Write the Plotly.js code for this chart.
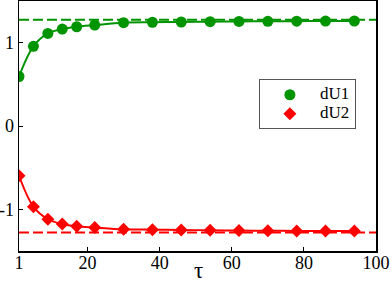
<!DOCTYPE html>
<html>
<head>
<meta charset="utf-8">
<script src="https://cdn.plot.ly/plotly-3.0.1.min.js"></script>
<style>html,body{margin:0;padding:0;background:#fff;}#chart{width:392px;height:284px;}</style>
</head>
<body>
<div id="chart"></div>
<script>
var tau = [1, 5, 9, 13, 17, 22, 30, 38, 46, 54, 62, 70, 78, 86, 94];
var dU1 = [0.594, 0.956, 1.111, 1.163, 1.191, 1.211, 1.240, 1.245, 1.248, 1.252, 1.255, 1.256, 1.258, 1.259, 1.260];
var dU2 = [-0.597, -0.968, -1.119, -1.175, -1.202, -1.218, -1.240, -1.244, -1.247, -1.252, -1.255, -1.257, -1.259, -1.260, -1.261];
var limitU1 = 1.275;
var limitU2 = -1.278;
var xRange = [1, 100];
var yRange = [-1.5, 1.5];
var xTicks = [1, 20, 40, 60, 80, 100];
var yTicks = [-1, 0, 1];
var xLabel = 'τ';
var seriesNames = ['dU1', 'dU2'];

var green = '#009400';
var red = '#ff0000';
var font = 'Liberation Serif';

function legendName(s) { return '<span style="font-size:17px">' + s + '</span>'; }

var traces = [
  {x: xRange, y: [limitU1, limitU1], mode: 'lines', line: {color: green, width: 2, dash: '10px,4px'}, showlegend: false, hoverinfo: 'skip'},
  {x: xRange, y: [limitU2, limitU2], mode: 'lines', line: {color: red, width: 2, dash: '10px,4px'}, showlegend: false, hoverinfo: 'skip'},
  {x: tau, y: dU1, mode: 'lines', line: {color: green, width: 2, shape: 'spline'}, showlegend: false},
  {x: tau, y: dU2, mode: 'lines', line: {color: red, width: 2, shape: 'spline'}, showlegend: false},
  {x: tau, y: dU1, mode: 'markers', name: legendName(seriesNames[0]), marker: {color: green, size: 11, symbol: 'circle'}},
  {x: tau, y: dU2, mode: 'markers', name: legendName(seriesNames[1]), marker: {color: red, size: 10, symbol: 'diamond'}}
];

var layout = {
  width: 392, height: 284,
  margin: {l: 19, r: 16, t: 1, b: 33},
  paper_bgcolor: '#fff', plot_bgcolor: '#fff',
  font: {family: font, color: '#000', size: 17},
  showlegend: true,
  xaxis: {
    range: xRange, tickvals: xTicks, ticktext: xTicks.map(String),
    ticks: 'inside', ticklen: 4, tickwidth: 1, tickcolor: '#000',
    showgrid: false, zeroline: false, showline: true, linecolor: '#000', linewidth: 1.5, mirror: true,
    tickfont: {family: font, size: 18}, ticklabelstandoff: -5
  },
  yaxis: {
    range: yRange, tickvals: yTicks, ticktext: ['-1', '0', '1'],
    ticks: 'inside', ticklen: 4, tickwidth: 1, tickcolor: '#000',
    showgrid: false, zeroline: false, showline: true, linecolor: '#000', linewidth: 1.5, mirror: true,
    tickfont: {family: font, size: 18}
  },
  annotations: [{
    text: xLabel, xref: 'paper', yref: 'paper', x: 0.502, y: -0.132,
    xanchor: 'center', yanchor: 'bottom', showarrow: false, borderpad: 0,
    font: {family: font, size: 23, color: '#000'}
  }],
  legend: {
    x: 0.672, y: 0.687, xanchor: 'left', yanchor: 'top',
    bordercolor: '#555', borderwidth: 1, bgcolor: '#fff',
    font: {family: font, size: 11}, itemwidth: 50, tracegroupgap: 0
  }
};

Plotly.newPlot('chart', traces, layout, {staticPlot: true, displayModeBar: false});
</script>
</body>
</html>
